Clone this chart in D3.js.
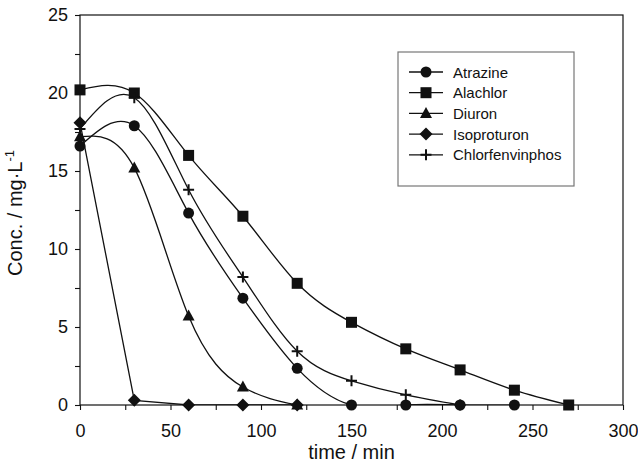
<!DOCTYPE html>
<html><head><meta charset="utf-8">
<script src="https://cdn.jsdelivr.net/npm/d3@7"></script>
<style>body{margin:0;background:#fff}svg{display:block}text{font-family:"Liberation Sans",Arial,sans-serif;fill:#111}</style>
</head><body>
<svg id="c" width="638" height="466"></svg>
<script>
const seriesNames = ["Atrazine","Alachlor","Diuron","Isoproturon","Chlorfenvinphos"];
const atrazineT = [0,30,60,90,120,150,180,210,240];
const atrazineC = [16.6,17.9,12.3,6.85,2.35,0,0,0,0];
const alachlorT = [0,30,60,90,120,150,180,210,240,270];
const alachlorC = [20.2,20.0,16.0,12.1,7.8,5.3,3.6,2.25,0.95,0];
const diuronT = [0,30,60,90,120];
const diuronC = [17.2,15.2,5.7,1.15,0];
const isoproturonT = [0,30,60,90,120];
const isoproturonC = [18.1,0.3,0,0,0];
const chlorT = [0,30,60,90,120,150,180,210];
const chlorC = [17.7,19.7,13.8,8.2,3.45,1.55,0.65,0];
const xTicks = [0,50,100,150,200,250,300];
const yTicks = [0,5,10,15,20,25];

const series = [
  {name:seriesNames[0], t:atrazineT, c:atrazineC, sym:"circle"},
  {name:seriesNames[1], t:alachlorT, c:alachlorC, sym:"square"},
  {name:seriesNames[2], t:diuronT, c:diuronC, sym:"triangle"},
  {name:seriesNames[3], t:isoproturonT, c:isoproturonC, sym:"diamond"},
  {name:seriesNames[4], t:chlorT, c:chlorC, sym:"plus"}
];

const svg = d3.select("#c");
const L=80, R=623, T=15, B=405;
const x = d3.scaleLinear().domain([0,300]).range([L,R]);
const y = d3.scaleLinear().domain([0,25]).range([B,T]);
const ink = "#111";

// frame
svg.append("rect").attr("x",L).attr("y",T).attr("width",R-L).attr("height",B-T)
  .attr("fill","none").attr("stroke",ink).attr("stroke-width",1.2);

// axes
const xAxis = d3.axisBottom(x).tickValues(xTicks).tickSize(5).tickPadding(14).tickFormat(d3.format("d"));
svg.append("g").attr("transform",`translate(0,${B})`).call(xAxis);
const xMinor = d3.axisBottom(x).tickValues(d3.range(25,300,50)).tickSize(5).tickFormat("");
svg.append("g").attr("transform",`translate(0,${B})`).call(xMinor);
const yAxis = d3.axisLeft(y).tickValues(yTicks).tickSize(5).tickPadding(7);
svg.append("g").attr("transform",`translate(${L},0)`).call(yAxis);
const yMinor = d3.axisLeft(y).tickValues(d3.range(2.5,25,5)).tickSize(5).tickFormat("");
svg.append("g").attr("transform",`translate(${L},0)`).call(yMinor);
svg.selectAll(".domain").remove();
svg.selectAll(".tick line").attr("stroke",ink).attr("stroke-width",1.1);
svg.selectAll(".tick text").attr("font-size",18).attr("fill",ink)
  .style("font-family","'Liberation Sans',Arial,sans-serif");

// labels
svg.append("text").attr("x",(L+R)/2).attr("y",459).attr("text-anchor","middle")
  .attr("font-size",20).text("time / min");
const yl = svg.append("text").attr("transform",`translate(22,${(T+B)/2+3}) rotate(-90)`)
  .attr("text-anchor","middle").attr("font-size",20);
yl.append("tspan").text("Conc. / mg·L");
yl.append("tspan").attr("dy",-8).attr("font-size",13).text("-1");

// curves
svg.append("clipPath").attr("id","pc").append("rect")
  .attr("x",L).attr("y",T-5).attr("width",R-L).attr("height",B-T+5);
series.forEach(s=>{
  const pts = s.t.map((t,i)=>[t,s.c[i]]);
  const curve = s.sym==="diamond" ? d3.curveLinear : d3.curveNatural;
  svg.append("path").attr("d",d3.line().x(d=>x(d[0])).y(d=>y(d[1])).curve(curve)(pts))
    .attr("fill","none").attr("stroke",ink).attr("stroke-width",1.3).attr("clip-path","url(#pc)");
});

function drawSym(g, sym, cx, cy){
  if(sym==="circle") g.append("circle").attr("cx",cx).attr("cy",cy).attr("r",5.5).attr("fill",ink);
  else if(sym==="square") g.append("rect").attr("x",cx-5.5).attr("y",cy-5.5).attr("width",11).attr("height",11).attr("fill",ink);
  else if(sym==="triangle") g.append("path").attr("d",`M${cx},${cy-6.5}L${cx+6},${cy+4.5}L${cx-6},${cy+4.5}Z`).attr("fill",ink);
  else if(sym==="diamond") g.append("path").attr("d",`M${cx},${cy-6.5}L${cx+6.5},${cy}L${cx},${cy+6.5}L${cx-6.5},${cy}Z`).attr("fill",ink);
  else if(sym==="plus") g.append("path").attr("d",`M${cx-5.5},${cy}H${cx+5.5}M${cx},${cy-5.5}V${cy+5.5}`).attr("stroke",ink).attr("stroke-width",2);
}
const mg = svg.append("g");
series.forEach(s=>{
  s.t.forEach((t,i)=>drawSym(mg, s.sym, x(t), y(s.c[i])));
});

// legend
const lg = svg.append("g");
lg.append("rect").attr("x",398).attr("y",52).attr("width",176).attr("height",134)
  .attr("fill","#fff").attr("stroke","#777").attr("stroke-width",1.2);
series.forEach((s,i)=>{
  const yy = 72 + i*20.7;
  lg.append("line").attr("x1",409).attr("x2",443).attr("y1",yy).attr("y2",yy).attr("stroke",ink).attr("stroke-width",1.3);
  drawSym(lg, s.sym, 426, yy);
  lg.append("text").attr("x",453).attr("y",yy+5.5).attr("font-size",15).text(s.name);
});
</script>
</body></html>
